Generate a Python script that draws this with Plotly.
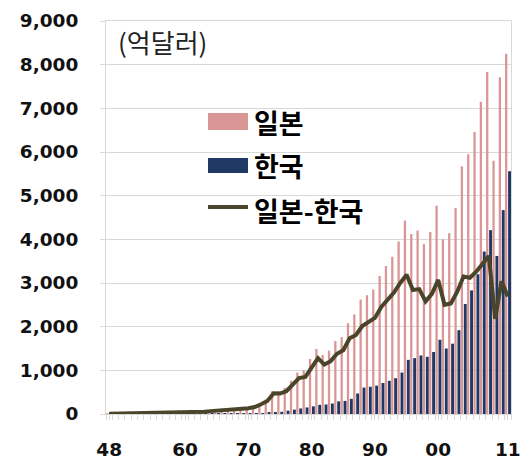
import plotly.graph_objects as go

years = list(range(1948, 2012))

japan = [3, 5, 8, 14, 13, 13, 16, 20, 25, 29, 29, 35, 41, 42, 49, 55, 67, 75, 85, 95,
         110, 125, 140, 170, 240, 330, 520, 520, 600, 760, 950, 1000, 1260, 1490, 1350, 1450,
         1670, 1760, 2080, 2280, 2620, 2720, 2850, 3160, 3390, 3600, 3950, 4430, 4120, 4200,
         3890, 4170, 4770, 4000, 4140, 4720, 5670, 5950, 6460, 7150, 7830, 5800, 7710, 8250]

korea = [0.2, 0.2, 0.2, 0.1, 0.3, 0.4, 0.2, 0.2, 0.2, 0.2, 0.2, 0.2, 0.3, 0.4, 0.5, 0.9,
         1.2, 1.8, 2.5, 3.2, 4.6, 6.2, 8, 11, 16, 32, 45, 51, 77, 100, 127, 150, 175, 210,
         218, 240, 290, 300, 347, 470, 605, 624, 650, 710, 760, 820, 950, 1240, 1280, 1340,
         1310, 1420, 1700, 1500, 1610, 1920, 2520, 2830, 3200, 3720, 4210, 3620, 4670, 5560]

gap = [3, 5, 8, 14, 13, 13, 16, 20, 25, 29, 29, 35, 41, 42, 49, 54, 66, 73, 83, 92,
       105, 119, 132, 159, 224, 298, 475, 469, 523, 660, 823, 850, 1085, 1280, 1132, 1210,
       1380, 1460, 1733, 1810, 2015, 2096, 2200, 2450, 2630, 2780, 3000, 3190, 2840, 2860,
       2580, 2750, 3070, 2500, 2530, 2800, 3150, 3120, 3260, 3430, 3620, 2180, 3040, 2690]

tick_years = [1948, 1960, 1970, 1980, 1990, 2000, 2011]
tick_text = ["48", "60", "70", "80", "90", "00", "11"]

PINK = "#D99694"
NAVY = "#1F3864"
OLIVE = "#4A452A"
GRID = "#D9D9D9"
FONT = "DejaVu Sans"

fig = go.Figure()
fig.add_trace(go.Bar(x=years, y=japan, name="일본", marker_color=PINK,
                     marker_line_width=0, width=0.36, offset=-0.44))
fig.add_trace(go.Bar(x=years, y=korea, name="한국", marker_color=NAVY,
                     marker_line_width=0, width=0.46, offset=0.04))
fig.add_trace(go.Scatter(x=years, y=gap, name="일본-한국", mode="lines",
                         line=dict(color=OLIVE, width=4)))

# custom legend (paper coordinates)
def px_x(p):
    return (p - 106) / 405.0

def px_y(p):
    return (414 - p) / 393.0

shapes = [
    dict(type="rect", xref="paper", yref="paper", x0=px_x(208), x1=px_x(248),
         y0=px_y(130), y1=px_y(113), fillcolor=PINK, line_width=0),
    dict(type="rect", xref="paper", yref="paper", x0=px_x(208), x1=px_x(248),
         y0=px_y(173), y1=px_y(158), fillcolor=NAVY, line_width=0),
    dict(type="line", xref="paper", yref="paper", x0=px_x(208), x1=px_x(248),
         y0=px_y(207), y1=px_y(207), line=dict(color=OLIVE, width=4)),
]
leg_font = dict(family="Noto Sans CJK KR", size=27, color="#000000", weight="bold")
annotations = [
    dict(text="일본", xref="paper", yref="paper", x=px_x(252), y=px_y(122),
         xanchor="left", yanchor="middle", showarrow=False, font=leg_font),
    dict(text="한국", xref="paper", yref="paper", x=px_x(252), y=px_y(165),
         xanchor="left", yanchor="middle", showarrow=False, font=leg_font),
    dict(text="일본-한국", xref="paper", yref="paper", x=px_x(252), y=px_y(210),
         xanchor="left", yanchor="middle", showarrow=False, font=leg_font),
    dict(text="(억달러)", xref="paper", yref="paper", x=px_x(116), y=px_y(42),
         xanchor="left", yanchor="middle", showarrow=False,
         font=dict(family="Noto Sans CJK KR", size=26, color="#222222")),
]

fig.update_layout(
    width=523, height=459,
    margin=dict(l=106, r=12, t=21, b=45, autoexpand=False),
    paper_bgcolor="white", plot_bgcolor="white",
    barmode="overlay",
    showlegend=False,
    shapes=shapes,
    annotations=annotations,
    xaxis=dict(
        range=[1947.5, 2011.5], automargin=False,
        tickvals=tick_years, ticktext=tick_text,
        ticks="outside", ticklen=5, tickcolor=GRID,
        showline=True, linecolor=GRID, linewidth=1, mirror=True,
        showgrid=False, zeroline=False,
        tickfont=dict(family=FONT, size=18.5, color="#111111", weight="bold"),
        ticklabelstandoff=14,
        minor=dict(dtick=1, tick0=1947.5, ticks="outside", ticklen=5, tickcolor=GRID),
    ),
    yaxis=dict(
        range=[0, 9000], dtick=1000, tickformat=",", automargin=False,
        ticks="outside", ticklen=5, tickcolor=GRID,
        showline=True, linecolor=GRID, linewidth=1, mirror=True,
        showgrid=True, gridcolor=GRID, gridwidth=1, zeroline=False,
        tickfont=dict(family=FONT, size=18.5, color="#111111", weight="bold"),
        ticklabelstandoff=18,
    ),
)

fig.write_html("out.html", config={"displayModeBar": False},
               post_script="document.body.style.margin='0';document.body.style.padding='0';")
